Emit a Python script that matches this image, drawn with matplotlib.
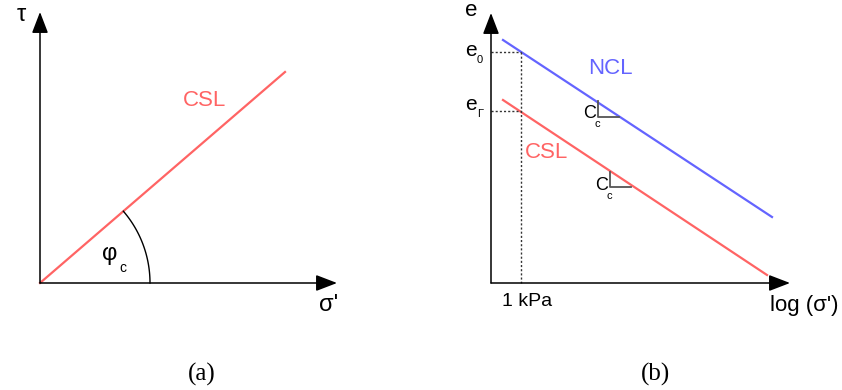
import numpy as np
import matplotlib.pyplot as plt

# Esquema en coordenadas de píxel (842 x 390), eje y invertido
W, H = 842, 390

ROJO = '#ff6464'
AZUL = '#6464ff'
GRIS = '#555555'
FUENTE = 'Liberation Sans'

# Panel (a): plano tau - sigma'
origen_a = (40, 283)
tope_eje_y_a = (40, 12)
tope_eje_x_a = (337, 283)
csl_a = [(40, 283), (285, 72)]
radio_arco = 110

# Panel (b): e - log(sigma')
origen_b = (491, 283)
tope_eje_y_b = (491, 13)
tope_eje_x_b = (790, 283)
ncl_b = [(503, 40), (772, 217)]
csl_b = [(503, 100), (767, 275)]
x_1kpa = 521
e0_y = 52
eG_y = 111
# triángulos de pendiente Cc: (x vertical, y arriba, y abajo, x fin)
triangulos = [(598, 101, 117, 619), (610, 172, 187, 631)]

fig = plt.figure(figsize=(W / 100, H / 100), dpi=100)
ax = fig.add_axes([0, 0, 1, 1])
ax.set_xlim(0, W)
ax.set_ylim(H, 0)
ax.axis('off')

def eje(ax, desde, hasta):
    ax.annotate('', xy=hasta, xytext=desde,
                arrowprops=dict(arrowstyle='-|>,head_length=1.3,head_width=0.5',
                                mutation_scale=10, lw=1.1, color='black',
                                shrinkA=0, shrinkB=0))

def texto(x, y, s, size, color='black', family=FUENTE):
    ax.text(x, y, s, fontsize=size, color=color, ha='center', va='center', family=family)

# ----- (a) -----
eje(ax, origen_a, tope_eje_y_a)
eje(ax, origen_a, tope_eje_x_a)
ax.plot([p[0] for p in csl_a], [p[1] for p in csl_a], color=ROJO, lw=1.6)

ang = np.arctan2(csl_a[0][1] - csl_a[1][1], csl_a[1][0] - csl_a[0][0])
t = np.linspace(0, ang, 60)
ax.plot(origen_a[0] + radio_arco * np.cos(t), origen_a[1] - radio_arco * np.sin(t),
        color='black', lw=1.0)

texto(21, 15, 'τ', 17)
texto(329, 305, "σ'", 17)
texto(205, 101, 'CSL', 16, ROJO)
texto(110, 254, 'φ', 17)
texto(123, 268, 'c', 10)

# ----- (b) -----
eje(ax, origen_b, tope_eje_y_b)
eje(ax, origen_b, tope_eje_x_b)
ax.plot([p[0] for p in ncl_b], [p[1] for p in ncl_b], color=AZUL, lw=1.6)
ax.plot([p[0] for p in csl_b], [p[1] for p in csl_b], color=ROJO, lw=1.6)

ax.plot([x_1kpa, x_1kpa], [e0_y, origen_b[1]], color='#333333', lw=1.0, ls=(0, (1.5, 1.5)))
for yy in (e0_y, eG_y):
    ax.plot([origen_b[0], x_1kpa], [yy, yy], color='#333333', lw=1.0, ls=(0, (1.5, 1.5)))

for xv, y1, y2, xf in triangulos:
    ax.plot([xv, xv, xf], [y1, y2, y2], color=GRIS, lw=1.3)

texto(471, 11, 'e', 16)
texto(471, 51, 'e', 15)
texto(480, 60, '0', 8)
texto(471, 104, 'e', 15)
texto(480, 114, 'Γ', 8)
texto(610, 68, 'NCL', 16, AZUL)
texto(547, 153, 'CSL', 16, ROJO)
texto(590, 113, 'C', 13)
texto(597, 124, 'c', 8)
texto(602, 185, 'C', 13)
texto(609, 196, 'c', 8)
texto(527, 302, '1 kPa', 14)
texto(804, 305, "log (σ')", 16)

# rótulos de panel
texto(202, 374, '(a)', 18, family='Liberation Serif')
texto(656, 374, '(b)', 18, family='Liberation Serif')

fig.savefig('out.png', dpi=100, facecolor='white')
